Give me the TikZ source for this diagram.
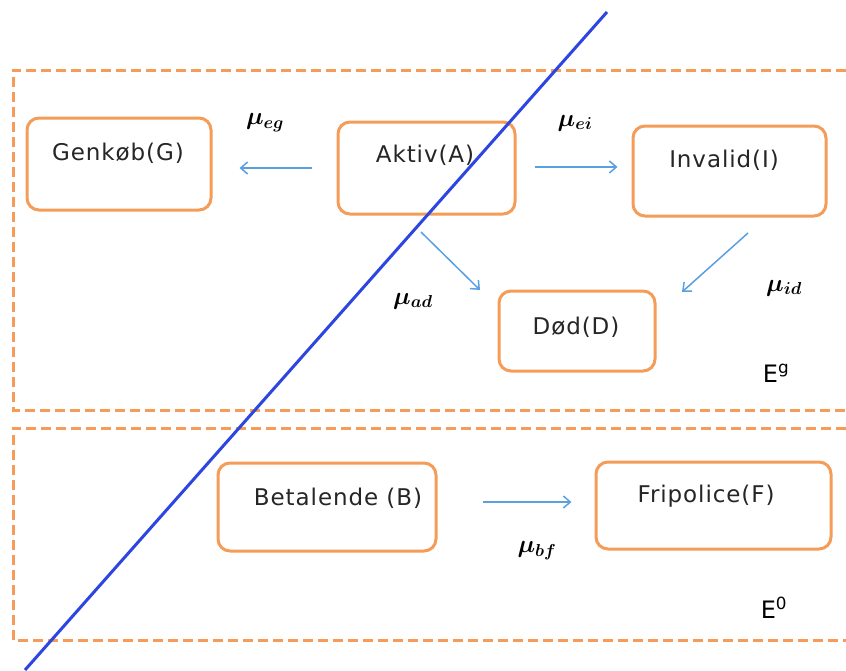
\documentclass[tikz,border=0pt]{standalone}
\usepackage{amsmath,bm}
\usepackage{fontspec}
\setmainfont{DejaVu Sans}
\newfontfamily\statefont[LetterSpace=4]{DejaVu Sans}
\usetikzlibrary{arrows.meta,calc}
\definecolor{boxorange}{RGB}{244,156,88}
\definecolor{arrowblue}{RGB}{90,160,225}
\definecolor{cutblue}{RGB}{45,70,225}
\tikzset{
  statebox/.style={draw=boxorange, line width=3pt, rounded corners=12pt, fill=none},
  statetext/.style={font=\statefont\fontsize{23}{27}\selectfont, text=black!85},
  regionline/.style={draw=boxorange, line width=3pt, dash pattern=on 10pt off 5pt},
  trans/.style={draw=arrowblue, line width=1.5pt, -{Straight Barb[length=7pt,width=12pt]}},
  rate/.style={font=\fontsize{23}{27}\selectfont},
  regionlabel/.style={font=\fontsize{24}{28}\selectfont}
}
\begin{document}
\begin{tikzpicture}[x=1pt,y=-1pt]
\useasboundingbox (0,0) rectangle (846,670);
\fill[white] (0,0) rectangle (846,670);

% the two regions E^g and E^0, open to the right
\draw[regionline] (846,70) -- (13,70) -- (13,410) -- (846,410);
\draw[regionline] (846,428) -- (13,428) -- (13,640) -- (846,640);

% states
\node[statebox, minimum width=184pt, minimum height=92pt] (G) at (119,164) {};
\node[statebox, minimum width=177pt, minimum height=92pt] (A) at (426.5,168) {};
\node[statebox, minimum width=193pt, minimum height=90pt] (I) at (729.5,171) {};
\node[statebox, minimum width=156pt, minimum height=80pt] (D) at (577,331) {};
\node[statebox, minimum width=218pt, minimum height=88pt] (B) at (327,507) {};
\node[statebox, minimum width=235pt, minimum height=87pt] (F) at (713.5,505.5) {};

\node[statetext] (Gt) at (118,153) {Genkøb(G)};
\node[statetext] (At) at (425,155) {Aktiv(A)};
\node[statetext] (It) at (724,160) {Invalid(I)};
\node[statetext] (Dt) at (576,327) {Død(D)};
\node[statetext] (Bt) at (338,498) {Betalende (B)};
\node[statetext] (Ft) at (706,496) {Fripolice(F)};

% transition arrows
\coordinate (AGs) at ($(A.west)+(-25,0)$);
\coordinate (AGe) at ($(G.east)+(27,4)$);
\coordinate (AIs) at ($(A.east)+(18,-1)$);
\coordinate (AIe) at ($(I.west)+(-14,-4)$);
\coordinate (ADs) at (421,232);
\coordinate (ADe) at (480,290);
\coordinate (IDs) at (748,233);
\coordinate (IDe) at (682,292);
\coordinate (BFs) at ($(B.east)+(45,-5)$);
\coordinate (BFe) at ($(F.west)+(-23,-3.5)$);
\draw[trans] (AGs) -- (AGe);
\draw[trans] (AIs) -- (AIe);
\draw[trans] (ADs) -- (ADe);
\draw[trans] (IDs) -- (IDe);
\draw[trans] (BFs) -- (BFe);

% transition intensities
\node[rate] (meg) at (265,123) {$\bm{\mu_{eg}}$};
\node[rate] (mei) at (575,123) {$\bm{\mu_{ei}}$};
\node[rate] (mad) at (413,301) {$\bm{\mu_{ad}}$};
\node[rate] (mid) at (784,288) {$\bm{\mu_{id}}$};
\node[rate] (mbf) at (537,551) {$\bm{\mu_{bf}}$};

% region labels
\node[regionlabel] (Eg) at (776,373) {E\textsuperscript{g}};
\node[regionlabel] (E0) at (774,608) {E\textsuperscript{0}};

% dividing line
\coordinate (cutlow) at (25,670);
\coordinate (cuthigh) at (607,12);
\draw[cutblue, line width=3pt] (cutlow) -- (cuthigh);
\end{tikzpicture}
\end{document}
